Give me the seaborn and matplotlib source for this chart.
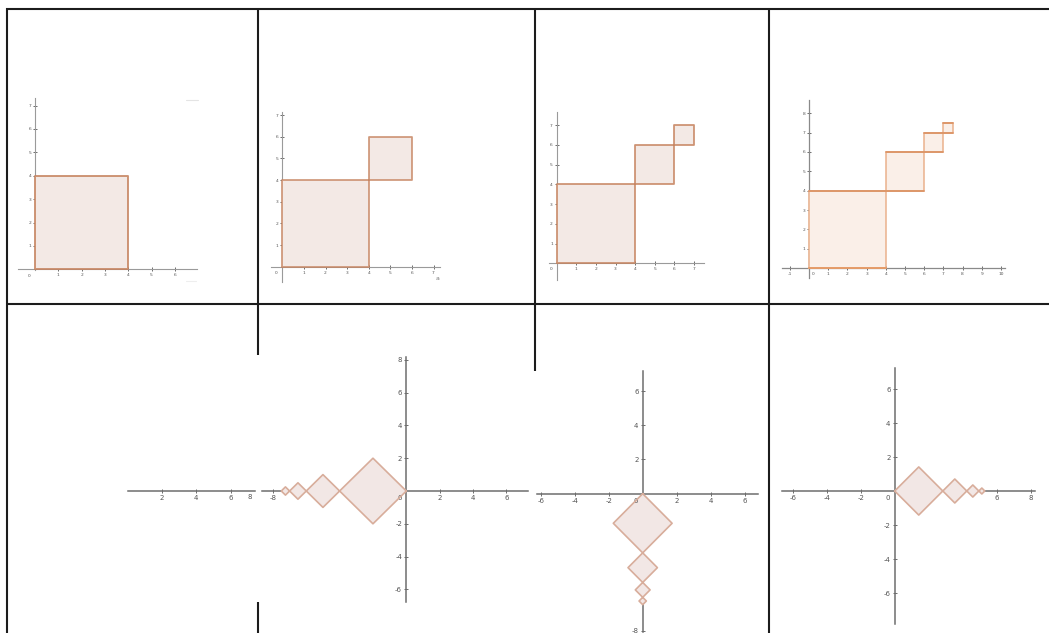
import numpy as np
import matplotlib
matplotlib.use("Agg")
import matplotlib.pyplot as plt
import seaborn as sns

sns.set_theme(style="white")
plt.rcParams['font.family'] = ['DejaVu Sans']

W, H = 1049, 633

# Staircase of squares: lower-left corners and side lengths
stair_x = [0, 4, 6, 7]
stair_y = [0, 4, 6, 7]
stair_side = [4, 2, 1, 0.5]

# Chains of diamonds (squares turned 45 degrees): diagonal lengths
diag_left = [4, 2, 1, 0.5]            # running along negative x
diag_down = [3.46, 1.73, 0.87, 0.43]  # running along negative y
diag_right = [2.83, 1.41, 0.71, 0.35] # running along positive x

# Number of staircase steps shown in each top-row panel
steps_per_panel = [1, 2, 3, 4]

fig = plt.figure(figsize=(W / 100, H / 100), dpi=100)
fig.patch.set_facecolor("white")

# Table rules drawn in pixel space
bg = fig.add_axes([0, 0, 1, 1], zorder=-5)
bg.set_xlim(0, W)
bg.set_ylim(H, 0)
bg.axis("off")
rule = dict(color="#1c1c1c", lw=1.5, solid_capstyle="butt")
bg.plot([6, W], [8.5, 8.5], **rule)
bg.plot([6, W], [303.5, 303.5], **rule)
bg.plot([6.5, 6.5], [8, H], **rule)
bg.plot([258, 258], [8, 355], **rule)
bg.plot([258, 258], [602, H], **rule)
bg.plot([535, 535], [8, 371], **rule)
bg.plot([768.5, 768.5], [8, H], **rule)


def panel(ox, oy, ux, uy, xlim, ylim, axis_col, axis_lw, show_y=True):
    x0 = ox + xlim[0] * ux
    x1 = ox + xlim[1] * ux
    y0 = oy - ylim[1] * uy
    y1 = oy - ylim[0] * uy
    ax = fig.add_axes([x0 / W, 1 - y1 / H, (x1 - x0) / W, (y1 - y0) / H])
    ax.set_xlim(*xlim)
    ax.set_ylim(*ylim)
    ax.patch.set_alpha(0)
    for s in ("top", "right"):
        ax.spines[s].set_visible(False)
    ax.spines["bottom"].set_position(("data", 0))
    ax.spines["left"].set_position(("data", 0))
    for s in ("bottom", "left"):
        ax.spines[s].set_color(axis_col)
        ax.spines[s].set_linewidth(axis_lw)
        ax.spines[s].set_zorder(2)
    if not show_y:
        ax.spines["left"].set_visible(False)
    ax.grid(False)
    return ax


def ticks(ax, xt, yt, size, col="#555555", length=2.5):
    ax.set_xticks(xt)
    ax.set_xticklabels([str(v) for v in xt])
    ax.set_yticks(yt)
    ax.set_yticklabels([str(v) for v in yt])
    ax.tick_params(axis="both", direction="inout", length=length, width=0.6,
                   color=col, labelsize=size, labelcolor=col, pad=1.5,
                   bottom=True, left=True)


def stair(ax, n, fill, edge, lw, alpha=1.0):
    for i in range(n):
        x, y, s = stair_x[i], stair_y[i], stair_side[i]
        xs = [x, x + s, x + s, x, x]
        ys = [y, y, y + s, y + s, y]
        ax.fill(xs, ys, color=fill, zorder=3, lw=0)
        sns.lineplot(x=xs, y=ys, sort=False, estimator=None, ax=ax,
                     color=edge, lw=lw, alpha=alpha, zorder=4)


def diamonds(ax, diags, direction, fill, edge, lw):
    pos = 0.0
    for d in diags:
        c = pos + d / 2
        h = d / 2
        if direction == "left":
            xs = [-pos, -c, -(pos + d), -c, -pos]
            ys = [0, h, 0, -h, 0]
        elif direction == "right":
            xs = [pos, c, pos + d, c, pos]
            ys = [0, h, 0, -h, 0]
        else:
            xs = [0, h, 0, -h, 0]
            ys = [-pos, -c, -(pos + d), -c, -pos]
        ax.fill(xs, ys, color=fill, zorder=3, lw=0)
        sns.lineplot(x=xs, y=ys, sort=False, estimator=None, ax=ax,
                     color=edge, lw=lw, zorder=4)
        pos += d


sq_fill = "#f3e9e5"
sq_edge = "#c6835f"
top_axis = "#9a9a9a"

# Top row, panel 1
ax = panel(35, 269.3, 23.3, 23.4, (-0.73, 6.95), (-0.02, 7.3), top_axis, 0.8)
ticks(ax, [1, 2, 3, 4, 5, 6], [1, 2, 3, 4, 5, 6, 7], 3.2)
stair(ax, steps_per_panel[0], sq_fill, sq_edge, 1.4, 0.85)
ax.text(-0.2, -0.2, "0", fontsize=3.2, color="#555555", ha="right", va="top")
bg.plot([186, 198], [100, 100], color="#e4e4e4", lw=0.8)
bg.plot([186, 196], [281, 281], color="#eeeeee", lw=0.8)

# Top row, panel 2
ax = panel(282.3, 266.7, 21.6, 21.67, (-0.54, 7.29), (-0.69, 7.15), top_axis, 0.8)
ticks(ax, [1, 2, 3, 4, 5, 6, 7], [1, 2, 3, 4, 5, 6, 7], 3.2)
stair(ax, steps_per_panel[1], sq_fill, sq_edge, 1.3, 0.8)
ax.text(-0.2, -0.2, "0", fontsize=3.2, color="#555555", ha="right", va="top")
ax.text(7.2, -0.55, "a", fontsize=4.5, color="#777777", ha="center", va="center")

# Top row, panel 3
ax = panel(556.7, 263.3, 19.6, 19.75, (-0.41, 7.53), (-0.85, 7.68), top_axis, 0.8)
ticks(ax, [1, 2, 3, 4, 5, 6, 7], [1, 2, 3, 4, 5, 6, 7], 3.2)
stair(ax, steps_per_panel[2], sq_fill, sq_edge, 1.3, 0.85)
ax.text(-0.2, -0.2, "0", fontsize=3.2, color="#555555", ha="right", va="top")

# Top row, panel 4
ax = panel(809, 268.3, 19.2, 19.4, (-1.42, 10.2), (-0.5, 8.68), "#8a8a8a", 0.9)
ticks(ax, [-1, 1, 2, 3, 4, 5, 6, 7, 8, 9, 10], [1, 2, 3, 4, 5, 6, 7, 8], 3.2)
stair(ax, steps_per_panel[3], "#faefe8", "#eab08a", 1.2, 0.9)
for i in range(4):
    x, y, s = stair_x[i], stair_y[i], stair_side[i]
    end = stair_x[i + 1] + stair_side[i + 1] if i < 3 else x + s
    sns.lineplot(x=[x, end], y=[y + s, y + s], ax=ax, color="#dc9466",
                 lw=1.3, zorder=5)
sns.lineplot(x=[0, 4], y=[0, 0], ax=ax, color="#e59a66", lw=1.3, zorder=5)
sns.lineplot(x=[0, 0], y=[0, 4], ax=ax, color="#e59a66", lw=1.3, zorder=5)
ax.text(0.15, -0.2, "0", fontsize=3.2, color="#555555", ha="left", va="top")

# Bottom row styling
bot_axis = "#6e6e6e"
dm_fill = "#f2e7e5"
dm_edge = "#d8ad9b"
lab = 5.0

# Bottom row, panel 1: x-axis only
ax = panel(127, 491, 17.3, 17.3, (0.05, 7.4), (-1.0, 1.0), bot_axis, 1.1, show_y=False)
ticks(ax, [2, 4, 6], [], lab, length=3)
ax.text(7.07, -0.2, "8", fontsize=lab, color="#555555", ha="center", va="top")

# Bottom row, panel 2
ax = panel(406.3, 491, 16.67, 16.4, (-8.66, 7.3), (-6.75, 8.19), bot_axis, 1.1)
ticks(ax, [-8, 2, 4, 6], [-6, -4, -2, 2, 4, 6, 8], lab, length=3)
diamonds(ax, diag_left, "left", dm_fill, dm_edge, 1.2)
ax.text(-0.25, -0.25, "0", fontsize=lab, color="#555555", ha="right", va="top")

# Bottom row, panel 3
ax = panel(642.7, 493.7, 17.0, 17.1, (-6.2, 6.8), (-8.07, 7.18), bot_axis, 1.1)
ticks(ax, [-6, -4, -2, 2, 4, 6], [-8, 2, 4, 6], lab, length=3)
diamonds(ax, diag_down, "down", dm_fill, dm_edge, 1.2)
ax.text(-0.25, -0.25, "0", fontsize=lab, color="#555555", ha="right", va="top")

# Bottom row, panel 4
ax = panel(894.7, 491, 17.0, 17.0, (-6.65, 8.25), (-7.84, 7.25), bot_axis, 1.1)
ticks(ax, [-6, -4, -2, 6, 8], [-6, -4, -2, 2, 4, 6], lab, length=3)
diamonds(ax, diag_right, "right", dm_fill, dm_edge, 1.2)
ax.text(-0.25, -0.25, "0", fontsize=lab, color="#555555", ha="right", va="top")

fig.savefig("out.png", dpi=100, facecolor="white")
